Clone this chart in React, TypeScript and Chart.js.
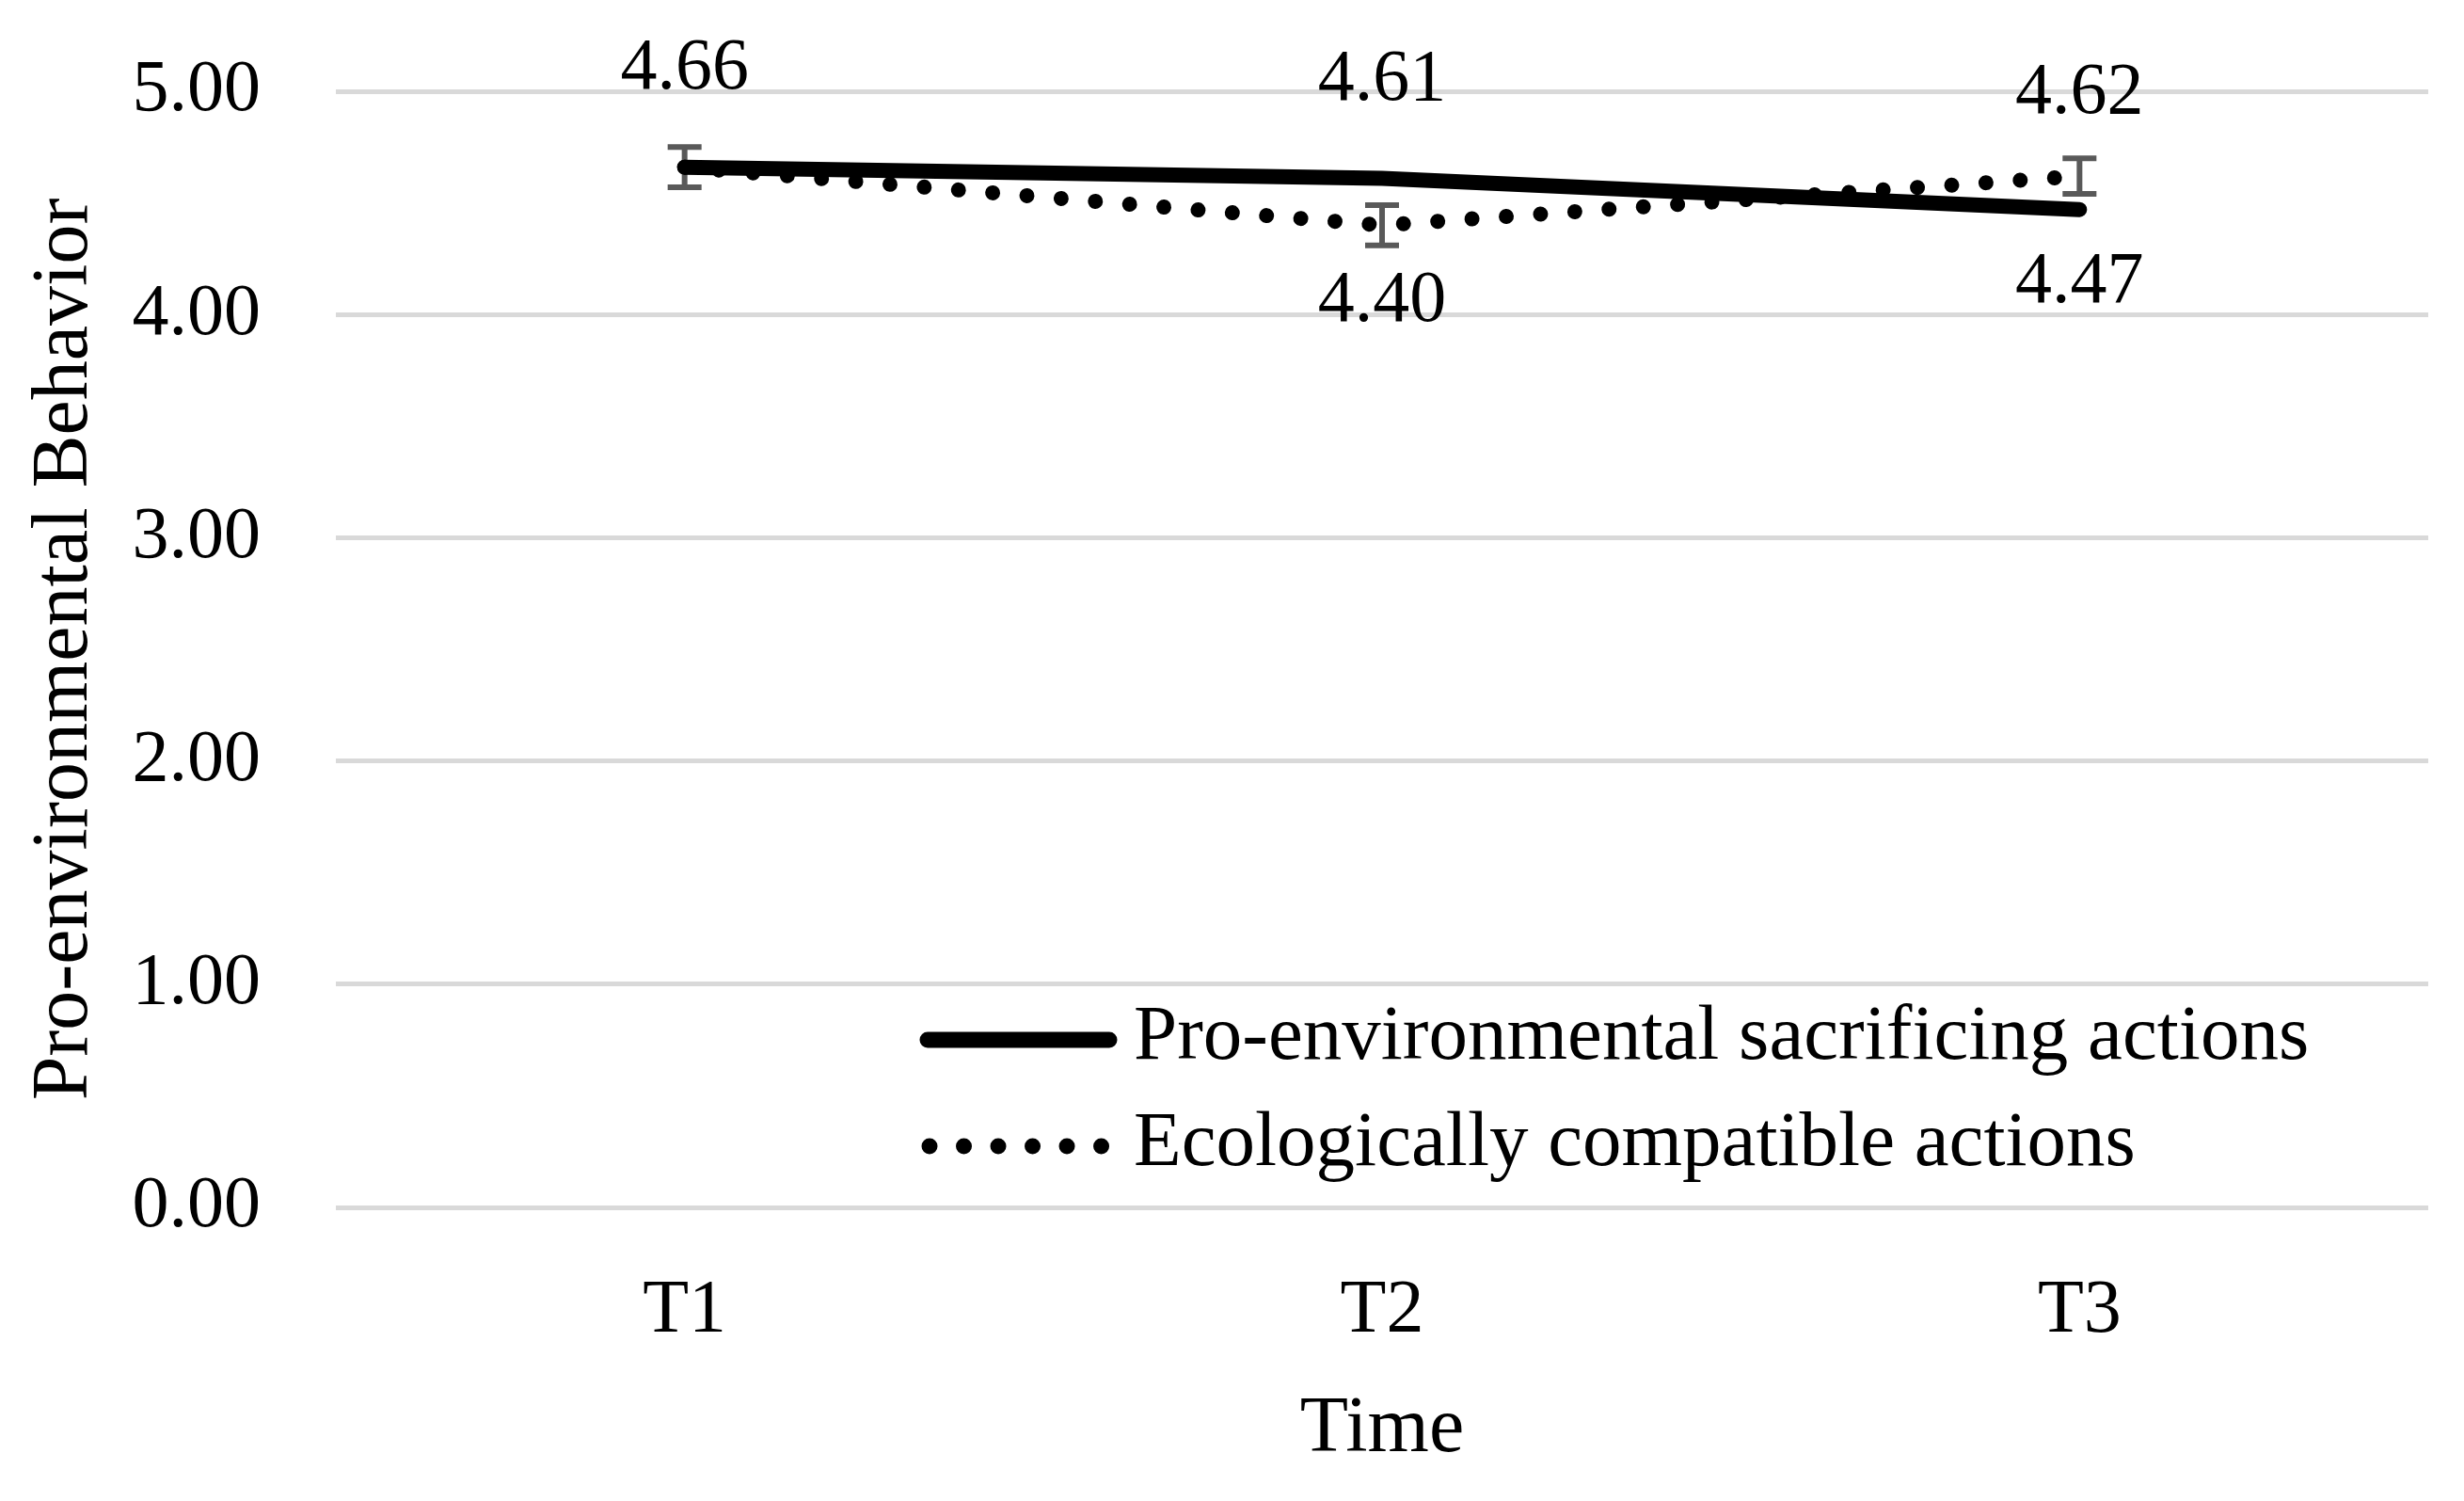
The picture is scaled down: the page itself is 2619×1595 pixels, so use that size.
import { useEffect, useRef } from "react";
import { Chart, registerables } from "chart.js";

Chart.register(...registerables);

const categories = ["T1", "T2", "T3"];
const sacrificing = [4.66, 4.61, 4.47];
const compatible = [4.66, 4.4, 4.62];
const compatibleErr = [0.09, 0.09, 0.08];
// where each value label sits (null = no label)
const sacrificingLabels = ["above", "above", "below"];
const compatibleLabels = [null, "below", "above"];
const yMin = 0;
const yMax = 5;
const yStep = 1;

const FONT = "'Liberation Serif', 'Times New Roman', serif";

const errorBars = {
  id: "errorBars",
  beforeDatasetsDraw(chart: any) {
    const { ctx } = chart;
    const x = chart.scales.x;
    const y = chart.scales.y;
    chart.data.datasets.forEach((ds: any) => {
      if (!ds.errors) return;
      ctx.save();
      ctx.strokeStyle = "#595959";
      ctx.lineWidth = 6;
      ds.data.forEach((v: number, i: number) => {
        const e = ds.errors[i];
        const px = x.getPixelForValue(i);
        const top = y.getPixelForValue(v + e);
        const bot = y.getPixelForValue(v - e);
        ctx.beginPath();
        ctx.moveTo(px, top);
        ctx.lineTo(px, bot);
        ctx.moveTo(px - 18, top);
        ctx.lineTo(px + 18, top);
        ctx.moveTo(px - 18, bot);
        ctx.lineTo(px + 18, bot);
        ctx.stroke();
      });
      ctx.restore();
    });
  },
};

const valueLabels = {
  id: "valueLabels",
  afterDatasetsDraw(chart: any) {
    const { ctx } = chart;
    const x = chart.scales.x;
    const y = chart.scales.y;
    ctx.save();
    ctx.font = `78px ${FONT}`;
    ctx.fillStyle = "#000";
    ctx.textAlign = "center";
    ctx.textBaseline = "middle";
    chart.data.datasets.forEach((ds: any) => {
      ds.data.forEach((v: number, i: number) => {
        const pos = ds.labelPos[i];
        if (!pos) return;
        const off = pos === "above" ? ds.aboveOffset : ds.belowOffset;
        ctx.fillText(v.toFixed(2), x.getPixelForValue(i), y.getPixelForValue(v) + off);
      });
    });
    ctx.restore();
  },
};

const innerLegend = {
  id: "innerLegend",
  afterDraw(chart: any) {
    const { ctx } = chart;
    const rows = [
      { lineY: 1105, textY: 1125 },
      { lineY: 1218, textY: 1238 },
    ];
    ctx.save();
    chart.data.datasets.forEach((ds: any, i: number) => {
      const r = rows[i];
      ctx.strokeStyle = ds.borderColor;
      ctx.lineWidth = 17;
      ctx.lineCap = "round";
      ctx.setLineDash(ds.borderDash || []);
      ctx.beginPath();
      if (ds.borderDash) {
        ctx.moveTo(988, r.lineY);
        ctx.lineTo(1172, r.lineY);
      } else {
        ctx.moveTo(986, r.lineY);
        ctx.lineTo(1179, r.lineY);
      }
      ctx.stroke();
      ctx.setLineDash([]);
      ctx.font = `83px ${FONT}`;
      ctx.fillStyle = "#000";
      ctx.textAlign = "left";
      ctx.textBaseline = "alphabetic";
      ctx.fillText(ds.label, 1205, r.textY);
    });
    ctx.restore();
  },
};

export default function App() {
  const canvasRef = useRef<HTMLCanvasElement>(null);
  const chartRef = useRef<Chart | null>(null);

  useEffect(() => {
    if (!canvasRef.current) return;
    const ctx = canvasRef.current.getContext("2d");
    if (!ctx) return;

    chartRef.current = new Chart(ctx, {
      type: "line",
      data: {
        labels: categories,
        datasets: [
          {
            label: "Pro-environmental sacrificing actions",
            data: sacrificing,
            borderColor: "#000000",
            borderWidth: 16,
            borderCapStyle: "round",
            pointRadius: 0,
            tension: 0,
            labelPos: sacrificingLabels,
            aboveOffset: -104,
            belowOffset: 78,
          } as any,
          {
            label: "Ecologically compatible actions",
            data: compatible,
            borderColor: "#000000",
            borderWidth: 16,
            borderDash: [0.01, 36.5],
            borderCapStyle: "round",
            pointRadius: 0,
            tension: 0,
            errors: compatibleErr,
            labelPos: compatibleLabels,
            aboveOffset: -88,
            belowOffset: 81,
          } as any,
        ],
      },
      options: {
        animation: false,
        responsive: true,
        maintainAspectRatio: false,
        devicePixelRatio: 1,
        layout: { padding: { top: 97, right: 38, left: 0, bottom: 0 } },
        plugins: {
          legend: { display: false },
          tooltip: { enabled: false },
        },
        scales: {
          x: {
            offset: true,
            grid: { display: false },
            border: { display: false },
            ticks: {
              color: "#000",
              padding: 55,
              font: { family: FONT, size: 80 },
            },
            title: {
              display: true,
              text: "Time",
              color: "#000",
              font: { family: FONT, size: 84 },
              padding: { top: 0, bottom: 25 },
            },
            afterFit: (scale: any) => {
              scale.height = 312;
            },
          },
          y: {
            min: yMin,
            max: yMax,
            grid: { color: "#d9d9d9", lineWidth: 5, drawTicks: false },
            border: { display: false },
            ticks: {
              stepSize: yStep,
              color: "#000",
              padding: 80,
              font: { family: FONT, size: 78 },
              callback: (v: any) => Number(v).toFixed(2),
            },
            title: {
              display: true,
              text: "Pro-environmental Behavior",
              color: "#000",
              font: { family: FONT, size: 84 },
              padding: { top: 20, bottom: 0 },
            },
            afterFit: (scale: any) => {
              scale.width = 357;
              scale.paddingTop = 0;
              scale.paddingBottom = 0;
            },
          },
        },
      },
      plugins: [errorBars, valueLabels, innerLegend],
    });

    return () => {
      chartRef.current?.destroy();
    };
  }, []);

  return (
    <div style={{ position: "absolute", left: 0, top: 0, width: 2619, height: 1595, background: "#fff" }}>
      <canvas ref={canvasRef} />
    </div>
  );
}
